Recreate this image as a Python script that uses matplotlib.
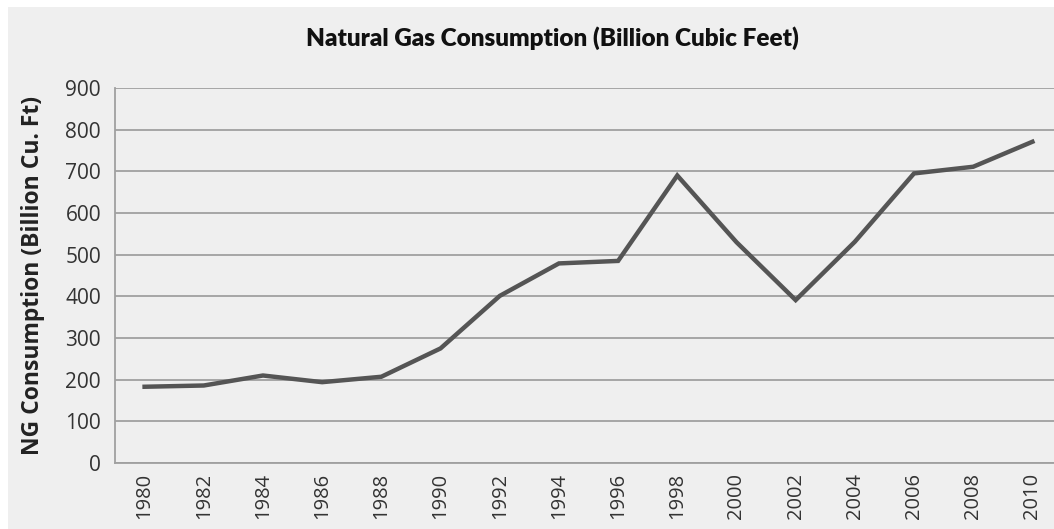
import matplotlib
matplotlib.use("Agg")
import matplotlib.pyplot as plt
from matplotlib.patches import Rectangle

# Consumo anual de gas natural (miles de millones de pies cúbicos)
years = ["1980", "1982", "1984", "1986", "1988", "1990", "1992", "1994",
         "1996", "1998", "2000", "2002", "2004", "2006", "2008", "2010"]
consumption = [183, 186, 210, 194, 207, 275, 401, 479,
               485, 690, 530, 391, 531, 695, 711, 771]
y_ticks = [0, 100, 200, 300, 400, 500, 600, 700, 800, 900]

W, H = 1054, 529
fig = plt.figure(figsize=(W / 100, H / 100), dpi=100, facecolor="white")

# fondo gris del área del gráfico
fig.patches.append(Rectangle((8 / W, 0), 1, 1 - 7 / H, transform=fig.transFigure,
                             facecolor="#efefef", edgecolor="none", zorder=-10))

ax = fig.add_axes([115 / W, (H - 463) / H, 947 / W, 375 / H])
ax.set_facecolor("#efefef")

x = list(range(len(years)))
ax.plot(x, consumption, color="#555555", linewidth=3.2, solid_joinstyle="miter",
        zorder=3)

ax.set_xlim(-0.5, len(years) - 0.5)
ax.set_ylim(0, 900)
ax.set_yticks(y_ticks)
ax.set_xticks(x)
ax.set_xticklabels(years, rotation=90, fontsize=14.5, family="Open Sans",
                   color="#333333")
ax.set_yticklabels([str(v) for v in y_ticks], fontsize=15, family="Open Sans",
                   color="#333333")
ax.tick_params(axis="both", length=0)
ax.tick_params(axis="y", pad=10)
ax.tick_params(axis="x", pad=7)

ax.grid(axis="y", color="#a0a0a0", linewidth=1.3)
ax.set_axisbelow(True)
for side in ["top", "right"]:
    ax.spines[side].set_visible(False)
for side in ["left", "bottom"]:
    ax.spines[side].set_color("#a0a0a0")
    ax.spines[side].set_linewidth(1.3)

ax.set_ylabel("NG Consumption (Billion Cu. Ft)", fontsize=16.5, fontweight="bold",
              family="Open Sans", color="#222222")
ax.yaxis.set_label_coords(-(115 - 45) / 947, 0.5)

fig.text(552 / W, 1 - 38 / H, "Natural Gas Consumption (Billion Cubic Feet)",
         ha="center", va="center", fontsize=17.5, fontweight="heavy",
         family=["Lato", "DejaVu Sans"], color="#111111")

fig.savefig("out.png", dpi=100, facecolor=fig.get_facecolor())
